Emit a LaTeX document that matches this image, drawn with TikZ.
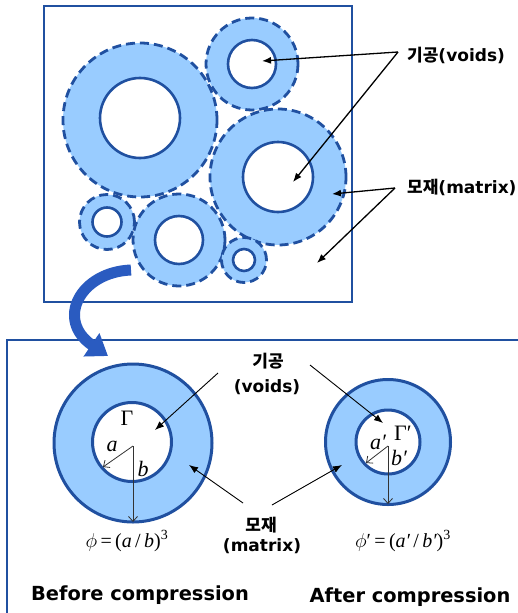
\documentclass[tikz,border=0pt]{standalone}
\usepackage{fix-cm}
\usepackage{fontspec}
\newfontfamily\lab{DejaVu Sans}
\newfontfamily\kr{Noto Sans CJK KR}
\newfontfamily\ser{Liberation Serif}
\usetikzlibrary{arrows.meta}
\definecolor{dblue}{HTML}{2050A0}
\definecolor{lblue}{HTML}{99CCFF}
\definecolor{abl}{HTML}{2A5BC0}
\begin{document}
\begin{tikzpicture}[x=1pt,y=-1pt,
  outerc/.style={circle, inner sep=0pt, fill=lblue, draw=dblue, line width=2.8pt, dash pattern=on 9pt off 5pt},
  innerc/.style={circle, inner sep=0pt, fill=white, draw=dblue, line width=2.6pt},
  ring/.style={circle, inner sep=0pt, fill=lblue, draw=dblue, line width=3pt},
  hole/.style={circle, inner sep=0pt, fill=white, draw=dblue, line width=3pt},
  lbl/.style={font=\bfseries\fontsize{17}{20}\selectfont, inner sep=0pt},
  larr/.style={draw=black, line width=1.3pt, -{Latex[length=9pt,width=7pt]}},
  tarr/.style={draw=black, line width=0.9pt, -{Latex[length=9pt,width=7pt]}},
  rarr/.style={draw=black!80, line width=0.8pt, -{Straight Barb[length=5pt,width=9pt]}},
  boxl/.style={draw=dblue, line width=2.7pt},
  ttl/.style={font=\lab\bfseries\fontsize{19.4}{23}\selectfont, inner sep=0pt},
  mth/.style={font=\ser\fontsize{20}{22}\selectfont, inner sep=0pt},
  sym/.style={font=\ser\fontsize{22}{24}\selectfont, inner sep=0pt}]
\useasboundingbox (0,0) rectangle (518,613);
\fill[white] (0,0) rectangle (518,613);

% top box
\draw[boxl] (44,6) rectangle (352,302);

% cells
\node[outerc, minimum size=154pt] (c1) at (140,120) {};
\node[innerc, minimum size=80pt] (h1) at (140,118) {};
\node[outerc, minimum size=92pt] (c2) at (252,64) {};
\node[innerc, minimum size=48pt] (h2) at (252,64) {};
\node[outerc, minimum size=136pt] (c3) at (278,177) {};
\node[innerc, minimum size=70pt] (h3) at (278,177) {};
\node[outerc, minimum size=55pt] (c4) at (107,222) {};
\node[innerc, minimum size=29pt] (h4) at (107,222) {};
\node[outerc, minimum size=92pt] (c5) at (179,240) {};
\node[innerc, minimum size=48pt] (h5) at (179,240) {};
\node[outerc, minimum size=45pt] (c6) at (244,260) {};
\node[innerc, minimum size=22pt] (h6) at (244,260) {};

% top labels
\node[lbl, anchor=west] (tv) at (407,55) {{\kr 기공}{\lab (voids)}};
\node[lbl, anchor=west] (tm) at (407,187) {{\kr 모재}{\lab (matrix)}};
\coordinate (tvo) at (398,52);
\coordinate (tmo) at (395,188);
\coordinate (tv1) at (262,61);
\coordinate (tv2) at (293,182);
\coordinate (tm1) at (332,194);
\coordinate (tm2) at (317,263);
\draw[larr] (tvo) -- (tv1);
\draw[larr] (tvo) -- (tv2);
\draw[larr] (tmo) -- (tm1);
\draw[larr] (tmo) -- (tm2);

% bottom box
\draw[boxl] (520,340) -- (7,340) -- (7,616);

% left ring
\node[ring, minimum size=158pt] (rl) at (133,443) {};
\node[hole, minimum size=79pt] (hl) at (132,442) {};
\coordinate (ol) at (133,446);
\coordinate (al) at (103,467);
\coordinate (bl) at (133,522);
\draw[rarr] (ol) -- (al);
\draw[rarr] (ol) -- (bl);
\node[sym] (gl) at (127,418) {Γ};
\node[sym] (la) at (112,446) {\itshape a};
\node[sym] (lb) at (143,469) {\itshape b};
\node[mth] (fl) at (127,541) {$\phi$\,=\,({\itshape a}\,/\,{\itshape b})\textsuperscript{3}};
\node[ttl] (tl) at (140,595) {Before compression};

% right ring
\node[ring, minimum size=125pt] (rr) at (388,442) {};
\node[hole, minimum size=64pt] (hr) at (388,442) {};
\coordinate (or) at (388,446);
\coordinate (ar) at (366,463);
\coordinate (br) at (388,504);
\draw[rarr] (or) -- (ar);
\draw[rarr] (or) -- (br);
\node[sym] (gr) at (403,433) {Γ′};
\node[sym] (ra) at (378,442) {\itshape a′};
\node[sym] (rb) at (399,458) {\itshape b′};
\node[mth] (fr) at (403,541) {$\phi$′\,=\,({\itshape a′}\,/\,{\itshape b′})\textsuperscript{3}};
\node[ttl] (tr) at (410,597) {After compression};

% middle labels
\node[lbl] (mv1) at (268,361) {\kr 기공};
\node[lbl] (mv2) at (267,387) {\lab (voids)};
\node[lbl] (mm1) at (261,525) {\kr 모재};
\node[lbl] (mm2) at (262,546) {\lab (matrix)};
\coordinate (mvl) at (218,373);
\coordinate (mvr) at (310,365);
\coordinate (mml) at (243,503);
\coordinate (mmr) at (272,505);
\coordinate (pvl) at (155,430);
\coordinate (pvr) at (383,423);
\coordinate (pml) at (189,465);
\coordinate (pmr) at (342,465);
\draw[tarr] (mvl) -- (pvl);
\draw[tarr] (mvr) -- (pvr);
\draw[tarr] (mml) -- (pml);
\draw[tarr] (mmr) -- (pmr);

% curved arrow
\coordinate (ca) at (131,270);
\coordinate (cb) at (108,356);
\draw[abl, line width=11pt, -{Triangle[length=20pt,width=27pt]}] (ca) .. controls (80,272) and (55,320) .. (cb);
\end{tikzpicture}
\end{document}
